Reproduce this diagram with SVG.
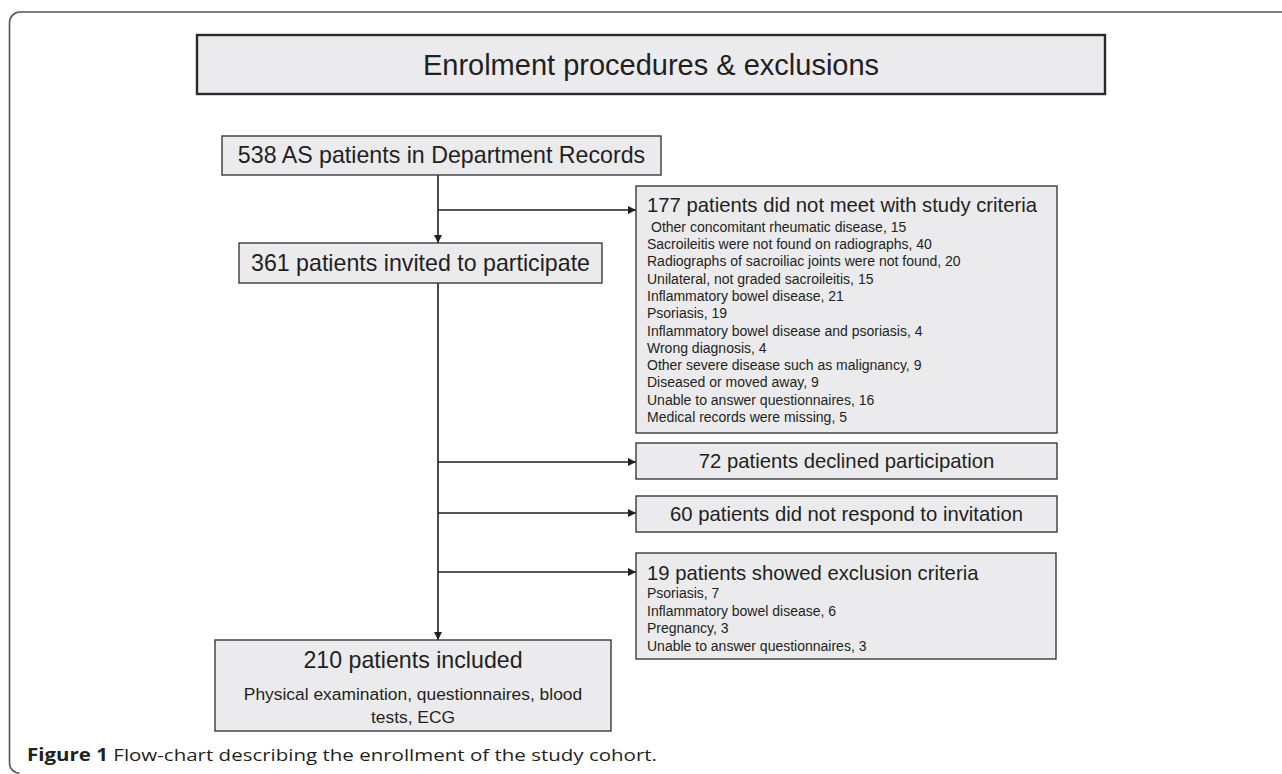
<svg xmlns="http://www.w3.org/2000/svg" width="1282" height="774" viewBox="0 0 1282 774">
<defs>
<style>
.box{fill:#ebebed;stroke:#3a3a3a;stroke-width:1.4}
.tbox{fill:#ebebed;stroke:#2a2a2a;stroke-width:2.4}
.t{font-family:"Liberation Sans",Arial,sans-serif;fill:#231f20}
.main{font-size:23.2px}
.side{font-size:20.3px}
.sub{font-size:14px}
.ln{stroke:#231f20;stroke-width:1.6;fill:none}
.cap{font-family:"Open Sans","Noto Sans",sans-serif;font-size:17px;fill:#231f20}
</style>
<marker id="ah" viewBox="0 0 10 10" refX="10" refY="5" markerWidth="8" markerHeight="8" markerUnits="userSpaceOnUse" orient="auto">
<path d="M0,0 L10,5 L0,10 z" fill="#231f20"/>
</marker>
</defs>
<rect width="1282" height="774" fill="#ffffff"/>
<path d="M1282,12 H20 A10.5,10.5 0 0 0 9.5,22.5 V763 A10,10 0 0 0 19.5,773" fill="none" stroke="#555" stroke-width="1.6"/>
<g id="title">
<rect class="tbox" x="197" y="35" width="908" height="59"/>
<text class="t" x="651" y="75" font-size="29" text-anchor="middle">Enrolment procedures &amp; exclusions</text>
</g>
<g id="connectors">
<line class="ln" x1="438" y1="175" x2="438" y2="243" marker-end="url(#ah)"/>
<line class="ln" x1="438" y1="283" x2="438" y2="640" marker-end="url(#ah)"/>
<line class="ln" x1="438" y1="210" x2="636" y2="210" marker-end="url(#ah)"/>
<line class="ln" x1="438" y1="462" x2="636" y2="462" marker-end="url(#ah)"/>
<line class="ln" x1="438" y1="513" x2="636" y2="513" marker-end="url(#ah)"/>
<line class="ln" x1="438" y1="572" x2="636" y2="572" marker-end="url(#ah)"/>
</g>
<g id="n538">
<rect class="box" x="222" y="136" width="439" height="39"/>
<text class="t main" x="441.5" y="163.3" text-anchor="middle">538 AS patients in Department Records</text>
</g>
<g id="n361">
<rect class="box" x="239" y="243" width="363" height="40"/>
<text class="t main" x="420.5" y="271.3" text-anchor="middle">361 patients invited to participate</text>
</g>
<g id="n177">
<rect class="box" x="636" y="186" width="421" height="247"/>
<text class="t side" x="647" y="212.3">177 patients did not meet with study criteria</text>
<text class="t sub" x="651" y="231.7">Other concomitant rheumatic disease, 15</text>
<text class="t sub" x="647" y="249">Sacroileitis were not found on radiographs, 40</text>
<text class="t sub" x="647" y="266.3">Radiographs of sacroiliac joints were not found, 20</text>
<text class="t sub" x="647" y="283.6">Unilateral, not graded sacroileitis, 15</text>
<text class="t sub" x="647" y="300.9">Inflammatory bowel disease, 21</text>
<text class="t sub" x="647" y="318.2">Psoriasis, 19</text>
<text class="t sub" x="647" y="335.5">Inflammatory bowel disease and psoriasis, 4</text>
<text class="t sub" x="647" y="352.8">Wrong diagnosis, 4</text>
<text class="t sub" x="647" y="370.1">Other severe disease such as malignancy, 9</text>
<text class="t sub" x="647" y="387.4">Diseased or moved away, 9</text>
<text class="t sub" x="647" y="404.7">Unable to answer questionnaires, 16</text>
<text class="t sub" x="647" y="422">Medical records were missing, 5</text>
</g>
<g id="n72">
<rect class="box" x="636" y="443" width="421" height="36"/>
<text class="t side" x="846.5" y="468.3" text-anchor="middle">72 patients declined participation</text>
</g>
<g id="n60">
<rect class="box" x="636" y="496" width="421" height="36"/>
<text class="t side" x="846.5" y="521.3" text-anchor="middle">60 patients did not respond to invitation</text>
</g>
<g id="n19">
<rect class="box" x="636" y="553" width="420" height="106"/>
<text class="t side" x="647" y="580.3">19 patients showed exclusion criteria</text>
<text class="t sub" x="647" y="598">Psoriasis, 7</text>
<text class="t sub" x="647" y="615.6">Inflammatory bowel disease, 6</text>
<text class="t sub" x="647" y="633.2">Pregnancy, 3</text>
<text class="t sub" x="647" y="650.8">Unable to answer questionnaires, 3</text>
</g>
<g id="n210">
<rect class="box" x="215" y="640" width="396" height="91"/>
<text class="t main" x="413" y="668.3" text-anchor="middle">210 patients included</text>
<text class="t" x="413" y="700" font-size="17.4" text-anchor="middle">Physical examination, questionnaires, blood</text>
<text class="t" x="413" y="723" font-size="17.4" text-anchor="middle">tests, ECG</text>
</g>
<text class="cap" x="27" y="761" textLength="630" lengthAdjust="spacingAndGlyphs"><tspan font-weight="bold">Figure 1</tspan> Flow-chart describing the enrollment of the study cohort.</text>
</svg>
